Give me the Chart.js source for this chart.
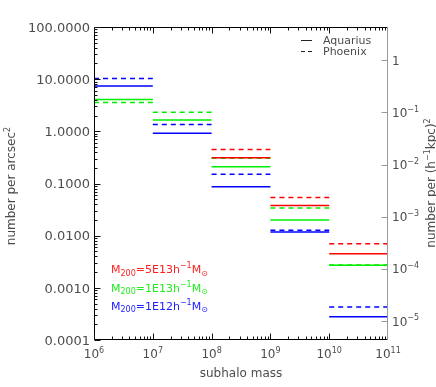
<!DOCTYPE html>
<html>
<head>
<meta charset="utf-8">
<script src="https://cdn.jsdelivr.net/npm/chart.js@4"></script>
<style>
  html, body { margin: 0; padding: 0; background: #fff; }
  canvas { display: block; }
</style>
</head>
<body>
<canvas id="subhalo-chart" width="436" height="387"></canvas>
<script>
// bin edges in subhalo mass, one step per bin
const binEdges = [1e6, 1e7, 1e8, 1e9, 1e10, 1e11];

// number per arcsec^2 in each bin (null = not drawn)
const aquarius5e13 = [null, null, 0.31, 0.038, 0.0045];
const phoenix5e13  = [null, null, 0.45, 0.054, 0.0070];
const aquarius1e13 = [4.07, 1.65, 0.21, 0.020, 0.0027];
const phoenix1e13  = [3.57, 2.32, 0.305, 0.034, 0.00275];
const aquarius1e12 = [7.4, 0.92, 0.0865, 0.0118, 0.00028];
const phoenix1e12  = [10.3, 1.35, 0.151, 0.0127, 0.00043];

const leftTickValues = [100, 10, 1, 0.1, 0.01, 0.001, 0.0001];
const leftTickLabels = ['100.0000', '10.0000', '1.0000', '0.1000', '0.0100', '0.0010', '0.0001'];
const xTickValues = [1e6, 1e7, 1e8, 1e9, 1e10, 1e11];
const xTickExponents = ['6', '7', '8', '9', '10', '11'];
const rightTickValues = [1, 0.1, 0.01, 0.001, 0.0001, 0.00001];
const rightTickExponents = [null, '\u22121', '\u22122', '\u22123', '\u22124', '\u22125'];

// right axis is the same counts per (h^-1 kpc)^2
const rightMin = 4.33e-6, rightMax = 4.33;

const FONT = '"DejaVu Sans"';
const TEXT = '#4d4d4d';

function steps(values) {
  const pts = [];
  values.forEach((v, i) => {
    if (v === null) return;
    pts.push({x: binEdges[i], y: v});
    pts.push({x: binEdges[i + 1], y: v});
    pts.push({x: binEdges[i + 1], y: null});
  });
  return pts;
}

function series(values, color, dashed) {
  return {
    data: steps(values),
    borderColor: color,
    borderWidth: 1.5,
    borderDash: dashed ? [5, 4] : [],
    pointRadius: 0,
    tension: 0,
    spanGaps: false,
    fill: false
  };
}

// parts: [text, kind] kind 0 normal, 1 superscript, -1 subscript
function rich(ctx, parts, x, y, size, align, color, rot) {
  const small = Math.round(size * 0.7);
  let total = 0;
  const widths = parts.map(p => {
    ctx.font = (p[1] ? small : size) + 'px ' + FONT;
    const w = ctx.measureText(p[0]).width;
    total += w;
    return w;
  });
  ctx.save();
  ctx.translate(x, y);
  if (rot) ctx.rotate(rot);
  ctx.fillStyle = color;
  ctx.textBaseline = 'alphabetic';
  ctx.textAlign = 'left';
  let cx = align === 'center' ? -total / 2 : align === 'right' ? -total : 0;
  parts.forEach((p, i) => {
    ctx.font = (p[1] ? small : size) + 'px ' + FONT;
    const dy = p[1] === 1 ? -size * 0.42 : p[1] === -1 ? size * 0.25 : 0;
    ctx.fillText(p[0], cx, dy);
    cx += widths[i];
  });
  ctx.restore();
}

const axesPlugin = {
  id: 'idlAxes',
  afterDraw(chart) {
    const ctx = chart.ctx;
    const a = chart.chartArea;
    const xs = chart.scales.x, ys = chart.scales.y, y2 = chart.scales.y2;
    const L = Math.round(a.left) + 0.5, R = Math.round(a.right) - 0.5;
    const T = Math.round(a.top) + 0.5, B = Math.round(a.bottom) - 0.5;

    ctx.save();
    ctx.setLineDash([]);
    ctx.lineWidth = 1;
    ctx.strokeStyle = '#000';
    ctx.beginPath();
    ctx.moveTo(R, T); ctx.lineTo(L, T); ctx.lineTo(L, B); ctx.lineTo(R, B);
    ctx.stroke();

    // x ticks, bottom and top, pointing inward
    ctx.strokeStyle = '#111';
    ctx.beginPath();
    for (let k = 6; k < 11; k++) {
      for (let m = 1; m <= 9; m++) {
        const px = Math.round(xs.getPixelForValue(m * Math.pow(10, k))) + 0.5;
        const len = m === 1 ? 6 : 3;
        ctx.moveTo(px, B); ctx.lineTo(px, B - len);
        ctx.moveTo(px, T); ctx.lineTo(px, T + len);
      }
    }
    // left y ticks
    for (let k = -4; k < 2; k++) {
      for (let m = 1; m <= 9; m++) {
        const py = Math.round(ys.getPixelForValue(m * Math.pow(10, k))) + 0.5;
        const len = m === 1 ? 6 : 3;
        ctx.moveTo(L, py); ctx.lineTo(L + len, py);
      }
    }
    const pyTop = Math.round(ys.getPixelForValue(100)) + 0.5;
    ctx.moveTo(L, pyTop); ctx.lineTo(L + 6, pyTop);
    ctx.stroke();

    // right axis in grey
    ctx.strokeStyle = '#999';
    ctx.beginPath();
    ctx.moveTo(R, T); ctx.lineTo(R, B);
    rightTickValues.forEach(v => {
      const py = Math.round(y2.getPixelForValue(v)) + 0.5;
      ctx.moveTo(R, py); ctx.lineTo(R - 6, py);
    });
    ctx.stroke();
    ctx.restore();

    // tick labels
    leftTickValues.forEach((v, i) => {
      const py = ys.getPixelForValue(v);
      rich(ctx, [[leftTickLabels[i], 0]], a.left - 4, py + 4.7, 13, 'right', TEXT);
    });
    xTickValues.forEach((v, i) => {
      const px = xs.getPixelForValue(v);
      rich(ctx, [['10', 0], [xTickExponents[i], 1]], px, a.bottom + 18, 12, 'center', TEXT);
    });
    rightTickValues.forEach((v, i) => {
      const py = y2.getPixelForValue(v);
      const parts = rightTickExponents[i] === null ? [['1', 0]] : [['10', 0], [rightTickExponents[i], 1]];
      rich(ctx, parts, a.right + 4, py + 4.5, 12, 'left', TEXT);
    });

    // axis titles
    rich(ctx, [['subhalo mass', 0]], (a.left + a.right) / 2, 377, 12, 'center', TEXT);
    rich(ctx, [['number per arcsec', 0], ['2', 1]], 15, 186, 12, 'center', TEXT, -Math.PI / 2);
    rich(ctx, [['number per (h', 0], ['\u22121', 1], ['kpc)', 0], ['2', 1]], 435, 183, 12, 'center', TEXT, -Math.PI / 2);

    // line-style legend
    ctx.save();
    ctx.setLineDash([]);
    ctx.strokeStyle = '#222';
    ctx.lineWidth = 1;
    ctx.beginPath();
    ctx.moveTo(301, 40.5); ctx.lineTo(312, 40.5);
    ctx.moveTo(301, 51.5); ctx.lineTo(305, 51.5);
    ctx.moveTo(308, 51.5); ctx.lineTo(312, 51.5);
    ctx.stroke();
    ctx.restore();
    rich(ctx, [['Aquarius', 0]], 323, 44, 11, 'left', TEXT);
    rich(ctx, [['Phoenix', 0]], 323, 55, 11, 'left', TEXT);

    // host mass labels
    const hosts = [['5E13', '#ff2020', 273], ['1E13', '#20ee20', 291.5], ['1E12', '#2020ff', 309.5]];
    hosts.forEach(h => {
      rich(ctx, [['M', 0], ['200', -1], ['=' + h[0] + 'h', 0], ['\u22121', 1], ['M', 0], ['\u2299', -1]],
        111, h[2], 11, 'left', h[1]);
    });
  }
};

new Chart(document.getElementById('subhalo-chart'), {
  type: 'line',
  data: {
    datasets: [
      series(aquarius5e13, '#ff0000', false),
      series(phoenix5e13, '#ff0000', true),
      series(aquarius1e13, '#00ee00', false),
      series(phoenix1e13, '#00ee00', true),
      series(aquarius1e12, '#0000ff', false),
      series(phoenix1e12, '#0000ff', true)
    ]
  },
  options: {
    responsive: false,
    animation: false,
    devicePixelRatio: 1,
    layout: { padding: { top: 27, left: 0, right: 0, bottom: 0 } },
    plugins: { legend: { display: false }, tooltip: { enabled: false } },
    scales: {
      x: {
        type: 'logarithmic', position: 'bottom', min: 1e6, max: 1e11,
        grid: { display: false }, border: { display: false }, ticks: { display: false },
        afterFit(scale) { scale.height = 47; }
      },
      y: {
        type: 'logarithmic', position: 'left', min: 1e-4, max: 100,
        grid: { display: false }, border: { display: false }, ticks: { display: false },
        afterFit(scale) { scale.width = 94; }
      },
      y2: {
        type: 'logarithmic', position: 'right', min: rightMin, max: rightMax,
        grid: { display: false }, border: { display: false }, ticks: { display: false },
        afterFit(scale) { scale.width = 48; }
      }
    }
  },
  plugins: [axesPlugin]
});
</script>
</body>
</html>
